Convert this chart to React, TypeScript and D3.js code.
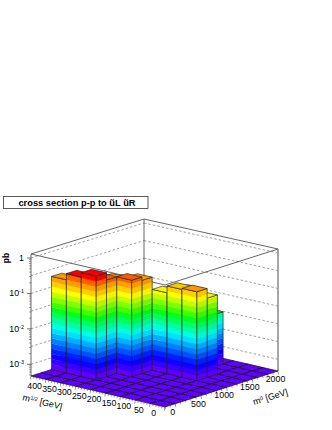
import React from "react";
import * as d3 from "d3";

const m12Centers = [375, 325, 275, 225, 175, 125, 75, 25, -25];
const m0Centers = [-100, 100, 300, 500, 700, 900, 1100, 1300, 1500, 1700, 1900];
// one row per m0 bin, one column per m1/2 bin
const row300 = [0.2, 0.3, 0.4, 0, 0, 0, 0, 0, 0];
const row500 = [0.15, 0.2, 0.25, 0, 0, 0, 0, 0, 0];
const row700 = [0.12, 0.15, 0.2, 0.25, 0, 0, 0, 0, 0];
const row900 = [0.1, 0.12, 0.15, 0.2, 0, 0, 0, 0, 0];
const row1100 = [0, 0, 0, 0, 0.09, 0.14, 0.15, 0, 0];
const row1300 = [0, 0, 0, 0, 0.08, 0.1, 0.08, 0, 0];
const row1500 = [0, 0, 0, 0, 0, 0.014, 0, 0, 0];
const row1700 = [0, 0, 0, 0, 0, 0.014, 0, 0, 0];
const empty = [0, 0, 0, 0, 0, 0, 0, 0, 0];
const crossSection = [empty, empty, row300, row500, row700, row900, row1100, row1300, row1500, row1700, empty];

const m12Ticks = [400, 350, 300, 250, 200, 150, 100, 50, 0];
const m0Ticks = [0, 500, 1000, 1500, 2000];
const palette = ["#6000ff", "#3a00ff", "#1000ff", "#0020ff", "#0050ff", "#0080ff", "#00b0ff", "#00e0ff", "#00ffe0", "#00ffa0",
  "#00ff60", "#00ff20", "#40ff00", "#80ff00", "#c0ff00", "#ffff00", "#ffd000", "#ffa000", "#ff6000", "#ff0000"];
const titleText = "cross section p-p to ũL ũR";

const FONT = "'Liberation Sans', Arial, sans-serif";
const cL = { x: 31, y: 376, h: 122 };
const cF = { x: 165, y: 407, h: 122 };
const cR = { x: 278, y: 371, h: 122 };
const cB = { x: 144, y: 340, h: 121 };

const uScale = d3.scaleLinear().domain([400, -50]).range([0, 1]);
const wScale = d3.scaleLinear().domain([-200, 2000]).range([0, 1]);
const zScale = d3.scaleLog().domain([Math.pow(10, -3.33), Math.pow(10, 0.113)]).range([0, 1]).clamp(true);

function project(m12: number, m0: number, f: number): [number, number] {
  const u = uScale(m12), w = wScale(m0);
  const mix = (k: "x" | "y" | "h") =>
    (1 - u) * (1 - w) * cL[k] + u * (1 - w) * cF[k] + u * w * cR[k] + (1 - u) * w * cB[k];
  return [mix("x"), mix("y") - f * mix("h")];
}
const line = d3.line();
const poly = (pts: [number, number][]) => line(pts) + "Z";

const maxVal = d3.max(crossSection.flat()) as number;
const fMax = zScale(maxVal);
const nBands = palette.length;

function shade(c: string, k: number) {
  return d3.color(c)!.darker(k).formatHex();
}

function Face({ a, b, f, k }: { a: [number, number]; b: [number, number]; f: number; k: number }) {
  const out: React.ReactNode[] = [];
  for (let n = 0; n < nBands; n++) {
    const f0 = (n / nBands) * fMax;
    const f1 = Math.min(((n + 1) / nBands) * fMax, f);
    if (f0 >= f) break;
    const d = poly([project(a[0], a[1], f0), project(b[0], b[1], f0), project(b[0], b[1], f1), project(a[0], a[1], f1)]);
    out.push(<path key={n} d={d} fill={shade(palette[n], k)} stroke={shade(palette[n], k)} strokeWidth={0.3} />);
  }
  return (
    <g>
      {out}
      <path d={poly([project(a[0], a[1], 0), project(b[0], b[1], 0), project(b[0], b[1], f), project(a[0], a[1], f)])}
        fill="none" stroke="#222" strokeOpacity={0.8} strokeWidth={0.8} />
    </g>
  );
}

export default function App() {
  const cells: { i: number; j: number }[] = [];
  m12Centers.forEach((_, i) => m0Centers.forEach((_, j) => cells.push({ i, j })));
  const order = cells.slice().sort((p, q) => (p.i - p.j) - (q.i - q.j));

  const wallLevels = [0, -0.5, -1, -1.5, -2, -2.5, -3];
  const zTicks = [1, 0.1, 0.01, 0.001];
  const zMinor: number[] = [];
  [-4, -3, -2, -1, 0].forEach(e => d3.range(2, 10).forEach(m => {
    const v = m * Math.pow(10, e);
    if (v > zScale.domain()[0] && v < zScale.domain()[1]) zMinor.push(v);
  }));
  const leftX = (f: number) => project(400, -200, f);

  const frame = "#555";
  const p = (a: number, b: number, f = 0) => project(a, b, f);

  return (
    <svg width={332} height={430} style={{ position: "absolute", left: 0, top: 0, background: "#fff" }} fontFamily={FONT}>
      <rect x={3.5} y={196.5} width={144.5} height={12} fill="#fff" stroke="#333" strokeWidth={0.8} />
      <text x={77} y={206.3} textAnchor="middle" fontSize={9.3} fontWeight="bold" fill="#000">{titleText}</text>

      {/* walls */}
      {wallLevels.map(l => {
        const f = zScale(Math.pow(10, l));
        return (
          <g key={l} fill="none" stroke="#777" strokeWidth={0.7} strokeDasharray="2.5 2">
            <path d={line([p(400, -200, f), p(400, 2000, f)])!} />
            <path d={line([p(400, 2000, f), p(-50, 2000, f)])!} />
          </g>
        );
      })}
      <g fill="none" stroke={frame} strokeWidth={0.9}>
        <path d={line([p(400, -200, 1), p(400, 2000, 1), p(-50, 2000, 1)])!} />
        <path d={line([p(400, -200, 1), p(-50, -200, 1), p(-50, 2000, 1)])!} />
        <path d={line([p(400, 2000, 0), p(400, 2000, 1)])!} />
        <path d={line([p(400, -200, 0), p(400, -200, 1)])!} />
      </g>
      <path d={line([p(-50, 2000, 0), p(-50, 2000, 1)])!} stroke="#888" strokeWidth={1.5} fill="none" />

      {/* floor */}
      {cells.map(({ i, j }) => {
        const a0 = m12Centers[i] + 25, a1 = m12Centers[i] - 25, b0 = m0Centers[j] - 100, b1 = m0Centers[j] + 100;
        return <path key={`${i}-${j}`} d={poly([p(a0, b0), p(a1, b0), p(a1, b1), p(a0, b1)])}
          fill={palette[0]} stroke="#111" strokeWidth={0.7} />;
      })}

      {/* bars */}
      {order.map(({ i, j }) => {
        const v = crossSection[j][i];
        if (!v) return null;
        const f = zScale(v);
        const a0 = m12Centers[i] + 25, a1 = m12Centers[i] - 25, b0 = m0Centers[j] - 100, b1 = m0Centers[j] + 100;
        const band = Math.min(nBands - 1, Math.floor((f / fMax) * nBands - 1e-6));
        return (
          <g key={`b${i}-${j}`}>
            <Face a={[a0, b0]} b={[a1, b0]} f={f} k={0} />
            <Face a={[a1, b0]} b={[a1, b1]} f={f} k={0.12} />
            <path d={poly([p(a0, b0, f), p(a1, b0, f), p(a1, b1, f), p(a0, b1, f)])}
              fill={shade(palette[band], 0.1)} stroke="#222" strokeOpacity={0.8} strokeWidth={0.8} />
          </g>
        );
      })}

      {/* z axis */}
      {zTicks.map(t => {
        const [x, y] = leftX(zScale(t));
        const e = Math.round(Math.log10(t));
        return (
          <g key={t}>
            <path d={`M${x - 4},${y}H${x}`} stroke="#333" strokeWidth={0.7} />
            {e === 0 ? (
              <text x={x - 7} y={y + 3} textAnchor="end" fontSize={8.8} fill="#000">1</text>
            ) : (
              <text x={x - 7} y={y + 3} textAnchor="end" fontSize={8.8} fill="#000">
                10<tspan fontSize={5.5} dy={-3}>{e}</tspan>
              </text>
            )}
          </g>
        );
      })}
      {zMinor.map(t => {
        const [x, y] = leftX(zScale(t));
        return <path key={t} d={`M${x - 2},${y}H${x}`} stroke="#444" strokeWidth={0.5} />;
      })}
      <text transform="translate(9,258) rotate(-90)" textAnchor="middle" fontSize={8.5} fontWeight="bold" fill="#000">pb</text>

      {/* m1/2 axis */}
      {d3.range(-50, 401, 10).map(t => {
        const [x, y] = p(t, -200);
        const big = t % 50 === 0;
        return <path key={t} d={`M${x},${y}l${big ? -0.5 : -0.3},${big ? 3.5 : 2}`} stroke="#333" strokeWidth={0.5} />;
      })}
      {m12Ticks.map(t => {
        const [x, y] = p(t, -200);
        return <text key={t} x={x + 3.6} y={y + 12.5} textAnchor="middle" fontSize={8.8} fill="#000">{t}</text>;
      })}
      <text transform="translate(22,400) rotate(14)" fontSize={9} fill="#000">
        m<tspan fontSize={5.5} dy={-2.5}>1/2</tspan><tspan dy={2.5}> [GeV]</tspan>
      </text>

      {/* m0 axis */}
      {d3.range(-200, 2001, 100).map(t => {
        const [x, y] = p(-50, t);
        const big = t % 500 === 0;
        return <path key={t} d={`M${x},${y}l${big ? 0.5 : 0.3},${big ? 3.5 : 2}`} stroke="#333" strokeWidth={0.5} />;
      })}
      {m0Ticks.map(t => {
        const [x, y] = p(-50, t);
        return <text key={t} x={x - 2.5} y={y + 11} textAnchor="middle" fontSize={8.8} fill="#000">{t}</text>;
      })}
      <text transform="translate(254,405) rotate(-17)" fontSize={9} fill="#000">
        m<tspan fontSize={5.5} dy={-2.5}>0</tspan><tspan dy={2.5}> [GeV]</tspan>
      </text>
    </svg>
  );
}
